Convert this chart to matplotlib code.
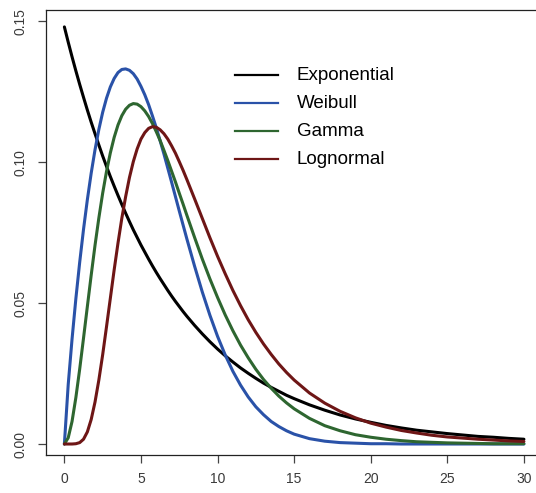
import matplotlib
matplotlib.use("Agg")
import matplotlib.pyplot as plt
from matplotlib.lines import Line2D

plt.rcParams['font.family'] = ['Liberation Sans', 'DejaVu Sans']

# x grid (values read at quarter steps up to 8, 0.5 steps to 15, then 1 step)
x_vals = [0, 0.25, 0.5, 0.75, 1, 1.25, 1.5, 1.75, 2, 2.25, 2.5, 2.75, 3, 3.25, 3.5,
          3.75, 4, 4.25, 4.5, 4.75, 5, 5.25, 5.5, 5.75, 6, 6.25, 6.5, 6.75, 7, 7.25,
          7.5, 7.75, 8, 8.5,
          9, 9.5, 10, 10.5, 11, 11.5, 12, 12.5, 13, 13.5, 14, 14.5, 15,
          16, 17, 18, 19, 20, 21, 22, 23, 24, 25, 26, 27, 28, 29, 30]

exponential = [0.1480, 0.1426, 0.1374, 0.1324, 0.1276, 0.1230, 0.1185, 0.1142, 0.1101,
               0.1061, 0.1022, 0.0985, 0.0949, 0.0915, 0.0882, 0.0850, 0.0819, 0.0789,
               0.0760, 0.0733, 0.0706, 0.0681, 0.0656, 0.0632, 0.0609, 0.0587, 0.0566,
               0.0545, 0.0525, 0.0506, 0.0488, 0.0470, 0.0453, 0.0421,
               0.0391, 0.0363, 0.0337, 0.0313, 0.0291, 0.0270, 0.0251, 0.0233, 0.0216,
               0.0201, 0.0187, 0.0173, 0.0161,
               0.0139, 0.0120, 0.0103, 0.0089, 0.0077, 0.0066, 0.0057, 0.0049, 0.0043,
               0.0037, 0.0032, 0.0027, 0.0024, 0.0020, 0.0017]

weibull = [0.0, 0.0211, 0.0372, 0.0516, 0.0645, 0.0762, 0.0867, 0.0961, 0.1044,
           0.1116, 0.1177, 0.1227, 0.1267, 0.1297, 0.1318, 0.1329, 0.1331, 0.1326,
           0.1314, 0.1295, 0.1269, 0.1239, 0.1204, 0.1164, 0.1122, 0.1076, 0.1029,
           0.0979, 0.0929, 0.0878, 0.0827, 0.0777, 0.0727, 0.0631,
           0.0540, 0.0457, 0.0382, 0.0316, 0.0258, 0.0209, 0.0167, 0.0132, 0.0104,
           0.0080, 0.0062, 0.0047, 0.0035,
           0.0019, 0.0010, 0.0005, 0.0003, 0.0001, 0.0001, 0.0, 0.0, 0.0,
           0.0, 0.0, 0.0, 0.0, 0.0, 0.0]

gamma = [0.0, 0.0022, 0.0080, 0.0165, 0.0266, 0.0376, 0.0488, 0.0599, 0.0705,
         0.0802, 0.0890, 0.0967, 0.1033, 0.1088, 0.1132, 0.1165, 0.1188, 0.1202,
         0.1208, 0.1206, 0.1197, 0.1182, 0.1162, 0.1137, 0.1108, 0.1077, 0.1042,
         0.1006, 0.0968, 0.0930, 0.0890, 0.0851, 0.0811, 0.0733,
         0.0657, 0.0586, 0.0520, 0.0458, 0.0402, 0.0351, 0.0306, 0.0265, 0.0229,
         0.0198, 0.0170, 0.0146, 0.0125,
         0.0091, 0.0065, 0.0047, 0.0033, 0.0024, 0.0017, 0.0012, 0.0008, 0.0006,
         0.0004, 0.0003, 0.0002, 0.0001, 0.0001, 0.0001]

lognormal = [0.0, 0.0, 0.0000, 0.0001, 0.0005, 0.0017, 0.0043, 0.0087, 0.0149,
             0.0227, 0.0317, 0.0416, 0.0517, 0.0618, 0.0713, 0.0801, 0.0878, 0.0946,
             0.1002, 0.1047, 0.1082, 0.1105, 0.1120, 0.1126, 0.1124, 0.1115, 0.1101,
             0.1082, 0.1058, 0.1032, 0.1002, 0.0971, 0.0938, 0.0870,
             0.0801, 0.0732, 0.0666, 0.0604, 0.0545, 0.0491, 0.0441, 0.0396, 0.0355,
             0.0318, 0.0284, 0.0254, 0.0227,
             0.0181, 0.0145, 0.0116, 0.0093, 0.0074, 0.0060, 0.0048, 0.0039, 0.0031,
             0.0025, 0.0021, 0.0017, 0.0014, 0.0011, 0.0009]

labels = ["Exponential", "Weibull", "Gamma", "Lognormal"]
colors = ["#000000", "#2a52a8", "#2e6630", "#6e1616"]
series = [exponential, weibull, gamma, lognormal]

x_ticks = [0, 5, 10, 15, 20, 25, 30]
y_ticks = [0.00, 0.05, 0.10, 0.15]
y_tick_labels = ["0.00", "0.05", "0.10", "0.15"]

W, H = 536, 493
fig = plt.figure(figsize=(W / 100, H / 100), dpi=100)
left_px, top_px, bottom_px, right_px = 46, 10, 455, 542.3
ax = fig.add_axes([left_px / W, (H - bottom_px) / H,
                   (right_px - left_px) / W, (bottom_px - top_px) / H])

for vals, col in zip(series, colors):
    ax.plot(x_vals, vals, color=col, lw=2.2, solid_joinstyle='round',
            solid_capstyle='round')

ax.set_xlim(-1.2, 31.2)
ax.set_ylim(-0.0039, 0.1540)
ax.set_xticks(x_ticks)
ax.set_xticklabels([str(t) for t in x_ticks])
ax.set_yticks(y_ticks)
ax.set_yticklabels(y_tick_labels, rotation=90, va='center')

for s in ax.spines.values():
    s.set_color('#222222')
    s.set_linewidth(0.9)

ax.tick_params(axis='both', direction='out', length=6, width=0.9,
               colors='#444444', labelsize=10, labelcolor='#3a3a3a')
ax.tick_params(axis='x', pad=6)
ax.tick_params(axis='y', pad=7)

# legend drawn manually (pixel placement)
for i, (lab, col) in enumerate(zip(labels, colors)):
    yp = 75 + i * 28.1
    yf = (H - yp) / H
    fig.add_artist(Line2D([235 / W, 278 / W], [yf, yf], color=col, lw=1.6,
                          transform=fig.transFigure))
    fig.text(297 / W, yf, lab, fontsize=13.5, color='#000000',
             ha='left', va='center')

fig.savefig("out.png", dpi=100)
